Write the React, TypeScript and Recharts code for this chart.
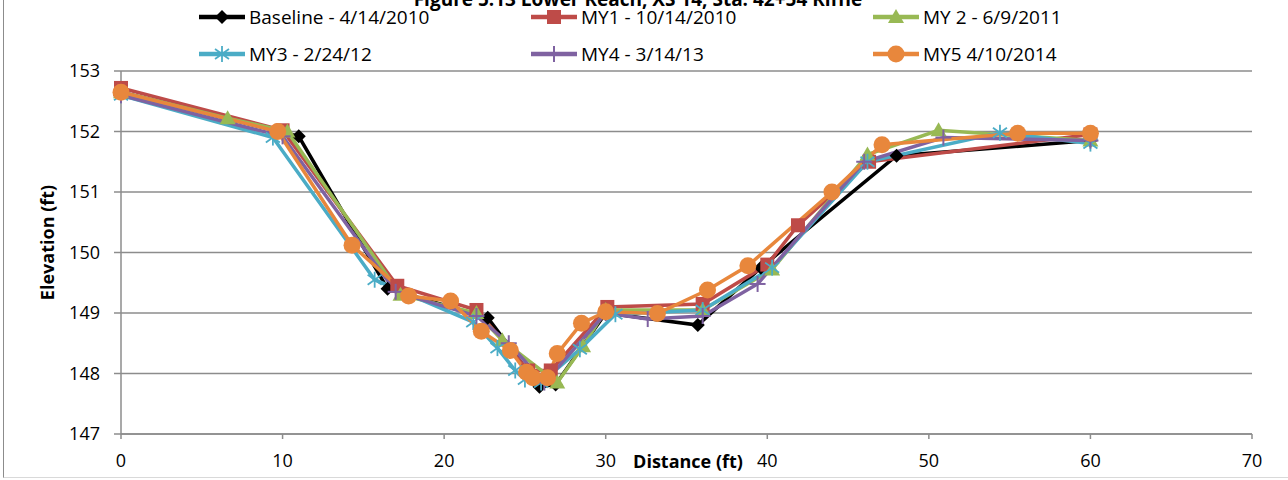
import React from "react";
import { LineChart, Line, XAxis, YAxis, CartesianGrid, Legend } from "recharts";

const xTicks = [0, 10, 20, 30, 40, 50, 60, 70];
const yTicks = [147, 148, 149, 150, 151, 152, 153];

// [distance, elevation]
const baseline = [
  [0, 152.65], [11, 151.92], [16.5, 149.4], [22.7, 148.92], [25.9, 147.78], [26.9, 147.82],
  [30, 149.0], [35.7, 148.8], [39.6, 149.75], [48, 151.6], [60, 151.85],
];
const my1 = [
  [0, 152.72], [10, 152.02], [17.1, 149.45], [22, 149.05], [25.2, 148.05], [26.6, 148.05],
  [30.1, 149.1], [36, 149.15], [40, 149.8], [41.9, 150.45], [46.3, 151.5], [60, 151.95],
];
const my2 = [
  [0, 152.65], [6.6, 152.22], [10.3, 152.0], [17.3, 149.3], [22, 149.0], [23.6, 148.55],
  [27, 147.85], [28.6, 148.45], [30, 149.05], [36, 149.05], [40.3, 149.72], [46.2, 151.62],
  [50.6, 152.02], [60, 151.85],
];
const my3 = [
  [0, 152.6], [9.4, 151.9], [15.7, 149.55], [21.8, 148.85], [23.3, 148.42], [24.4, 148.05],
  [25, 147.9], [26, 147.85], [28.4, 148.4], [30.6, 148.98], [36, 149.05], [40.3, 149.75],
  [46.2, 151.5], [54.4, 151.98], [60, 151.8],
];
const my4 = [
  [0, 152.6], [10, 151.92], [17, 149.35], [22, 148.95], [24, 148.5], [26.2, 147.85],
  [30, 149.0], [32.6, 148.9], [36, 148.95], [39.4, 149.48], [46, 151.5], [50.9, 151.9],
  [60, 151.85],
];
const my5 = [
  [0, 152.65], [9.7, 152.0], [14.3, 150.12], [17.8, 149.28], [20.4, 149.2], [22.3, 148.7],
  [24.1, 148.38], [25.1, 148.02], [25.5, 147.93], [26.4, 147.93], [27, 148.33], [28.5, 148.83],
  [30, 149.02], [33.2, 148.99], [36.3, 149.38], [38.8, 149.78], [44, 151.0], [47.1, 151.78],
  [55.5, 151.97], [60, 151.97],
];

const names = [
  "Baseline - 4/14/2010",
  "MY1 - 10/14/2010",
  "MY 2 - 6/9/2011",
  "MY3 - 2/24/12",
  "MY4 - 3/14/13",
  "MY5 4/10/2014",
];
const colors = ["#000000", "#BE4B48", "#98B954", "#4BACC6", "#7F62A1", "#E8873C"];
const shapes = ["diamond", "square", "triangle", "star", "plus", "circle"];
const allPoints = [baseline, my1, my2, my3, my4, my5];

const FONT = "'Open Sans', 'Liberation Sans', sans-serif";
const GRID = "#8c8c8c";

const series = names.map((name, i) => ({
  name,
  color: colors[i],
  shape: shapes[i],
  rows: allPoints[i].map(([x, y]) => ({ x, y })),
}));

function Marker({ shape, x, y, color }: { shape: string; x: number; y: number; color: string }) {
  switch (shape) {
    case "diamond":
      return <polygon points={`${x},${y - 7} ${x + 7},${y} ${x},${y + 7} ${x - 7},${y}`} fill={color} />;
    case "square":
      return <rect x={x - 7} y={y - 7} width={14} height={14} fill={color} />;
    case "triangle":
      return <polygon points={`${x},${y - 8} ${x + 8},${y + 6} ${x - 8},${y + 6}`} fill={color} />;
    case "star":
      return (
        <g stroke={color} strokeWidth={1.8}>
          <line x1={x} y1={y - 8} x2={x} y2={y + 8} />
          <line x1={x - 7} y1={y - 5} x2={x + 7} y2={y + 5} />
          <line x1={x - 7} y1={y + 5} x2={x + 7} y2={y - 5} />
        </g>
      );
    case "plus":
      return (
        <g stroke={color} strokeWidth={2}>
          <line x1={x} y1={y - 8} x2={x} y2={y + 8} />
          <line x1={x - 8} y1={y} x2={x + 8} y2={y} />
        </g>
      );
    default:
      return <circle cx={x} cy={y} r={8.5} fill={color} />;
  }
}

const legendX = [199, 531, 873];
const legendY = [17, 54];

function renderLegend() {
  return (
    <svg width={1288} height={70} style={{ display: "block" }}>
      <text x={638} y={6} textAnchor="middle" fontFamily={FONT} fontWeight="bold" fontSize={19} fill="#000">
        Figure 5.13 Lower Reach, XS 14, Sta. 42+54 Riffle
      </text>
      {series.map((s, i) => {
        const lx = legendX[i % 3];
        const ly = legendY[Math.floor(i / 3)];
        return (
          <g key={s.name}>
            <line x1={lx} y1={ly} x2={lx + 46} y2={ly} stroke={s.color} strokeWidth={4.5} />
            <Marker shape={s.shape} x={lx + 23} y={ly} color={s.color} />
            <text x={lx + 50} y={ly + 7} fontFamily={FONT} fontSize={19} fill="#000">
              {s.name}
            </text>
          </g>
        );
      })}
    </svg>
  );
}

export default function App() {
  return (
    <div style={{ position: "absolute", left: 0, top: 0, width: 1288, height: 480, background: "#fff", overflow: "hidden" }}>
      <div style={{ position: "absolute", left: 3, top: -2, width: 1290, height: 479, borderLeft: "1px solid #8c8c8c", borderBottom: "1px solid #d9d9d9" }} />
      <LineChart width={1288} height={480} margin={{ top: 71, right: 36, bottom: 6, left: 0 }}>
        <CartesianGrid vertical={false} stroke={GRID} strokeWidth={1.5} />
        <XAxis
          dataKey="x"
          type="number"
          domain={[0, 70]}
          ticks={xTicks}
          height={40}
          allowDuplicatedCategory={false}
          stroke={GRID}
          strokeWidth={1.5}
          tickSize={5}
          tickMargin={15}
          tick={{ fill: "#000", fontSize: 18, fontFamily: FONT }}
          label={{
            content: (p: any) => {
              const vb = p.viewBox;
              return (
                <text x={vb.x + vb.width / 2 + 1.5} y={vb.y + 34} textAnchor="middle" fontFamily={FONT} fontWeight="bold" fontSize={18} fill="#000">
                  Distance (ft)
                </text>
              );
            },
          }}
        />
        <YAxis
          type="number"
          domain={[147, 153]}
          ticks={yTicks}
          width={121}
          stroke={GRID}
          strokeWidth={1.5}
          tickSize={7}
          tickMargin={14}
          tick={{ fill: "#000", fontSize: 18, fontFamily: FONT }}
          label={{
            content: (p: any) => {
              const vb = p.viewBox;
              const cx = vb.x + 47;
              const cy = vb.y + vb.height / 2 - 10;
              return (
                <text x={cx} y={cy} transform={`rotate(-90 ${cx} ${cy})`} textAnchor="middle" dominantBaseline="central" fontFamily={FONT} fontWeight="bold" fontSize={18} fill="#000">
                  Elevation (ft)
                </text>
              );
            },
          }}
        />
        <Legend
          layout="vertical"
          verticalAlign="middle"
          align="center"
          content={renderLegend}
          wrapperStyle={{ left: 0, top: 0, width: 1288, height: 70 }}
        />
        {series.map((s) => (
          <Line
            key={s.name}
            data={s.rows}
            dataKey="y"
            name={s.name}
            type="linear"
            stroke={s.color}
            strokeWidth={3.5}
            activeDot={false}
            isAnimationActive={false}
            dot={(p: any) => <Marker key={`${s.name}-${p.index}`} shape={s.shape} x={p.cx} y={p.cy} color={s.color} />}
          />
        ))}
      </LineChart>
    </div>
  );
}
